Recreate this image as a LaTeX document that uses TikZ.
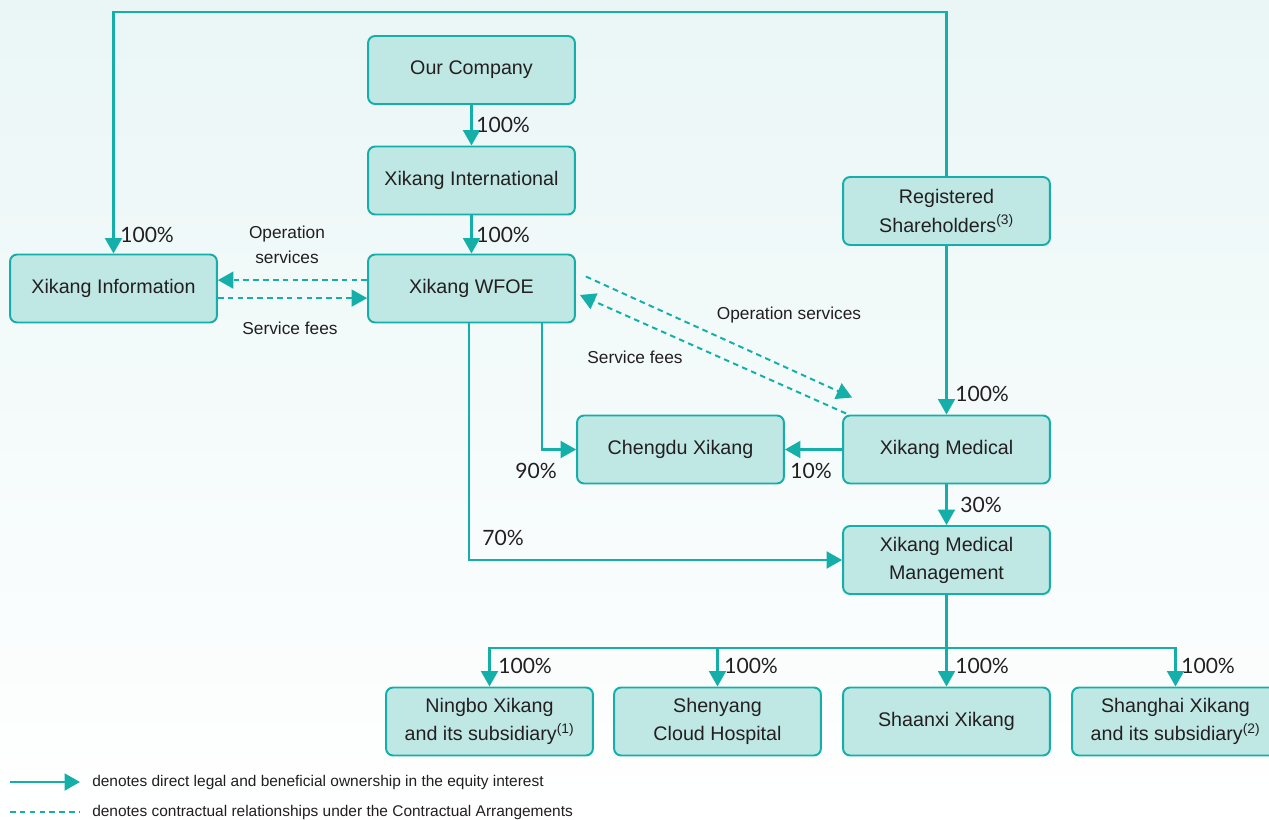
\documentclass[tikz,border=0pt]{standalone}
\usepackage{fontspec}
\setmainfont{Liberation Sans}
\newfontfamily\pctfont{Lato}
\usetikzlibrary{arrows.meta}
\definecolor{xkline}{HTML}{14AFA8}
\definecolor{xkfill}{HTML}{BFE8E5}
\definecolor{xktext}{HTML}{231F20}
\definecolor{xkback}{HTML}{EAF6F6}

\begin{document}
\begin{tikzpicture}[x=0.025cm,y=-0.025cm,
    ent/.style={draw=xkline,fill=xkfill,line width=1.4pt,rounded corners=5pt,
      minimum width=5.17cm,minimum height=1.7cm,align=center,text=xktext,
      font=\fontsize{14}{20}\selectfont},
    own/.style={xkline,line width=1.7pt,-{Triangle[length=11pt,width=12pt]}},
    deal/.style={xkline,line width=1.4pt,dash pattern=on 4pt off 3pt},
    pct/.style={font=\pctfont\fontsize{15}{18}\selectfont,text=xktext,inner sep=0pt,anchor=west},
    note/.style={font=\fontsize{12.3}{18}\selectfont,text=xktext,align=center},
    key/.style={font=\fontsize{11}{13}\selectfont,text=xktext,anchor=west,inner sep=0pt}]
  \shade[top color=xkback,bottom color=white,use as bounding box] (0,0) rectangle (1269,820);
  \draw
    (471.5,70) node[ent] (oc){Our Company}
    (471.5,180.5) node[ent] (xi){Xikang International}
    (471.5,288.5) node[ent] (wfoe){Xikang WFOE}
    (113.5,288.5) node[ent] (xinfo){Xikang Information}
    (946.5,211) node[ent] (rs){Registered\\Shareholders\textsuperscript{(3)}}
    (680.5,449.5) node[ent] (cx){Chengdu Xikang}
    (946.5,449.5) node[ent] (xm){Xikang Medical}
    (946.5,560) node[ent] (xmm){Xikang Medical\\Management}
    (489.5,721.5) node[ent] (nb){Ningbo Xikang\\and its subsidiary\textsuperscript{(1)}}
    (717.5,721.5) node[ent] (sy){Shenyang\\Cloud Hospital}
    (946.5,721.5) node[ent] (sx){Shaanxi Xikang}
    (1175.5,721.5) node[ent] (sh){Shanghai Xikang\\and its subsidiary\textsuperscript{(2)}};
  \coordinate (top) at (0,12);
  \coordinate (bus) at (0,648);
  \begin{scope}[own]
    \draw (oc) -- (xi);
    \draw (xi) -- (wfoe);
    \draw (rs.north) -- (rs.north |- top) -- (xinfo.north |- top) -- (xinfo.north);
    \draw (rs) -- (xm);
    \draw ([xshift=1.76cm]wfoe.south) |- (cx.west);
    \draw ([xshift=-0.06cm]wfoe.south) |- (xmm.west);
    \draw (xm.west) -- (cx.east);
    \draw (xm) -- (xmm);
    \foreach \c in {nb,sy,sh}
      \draw (xmm.south) -- (xmm.south |- bus) -| (\c.north);
    \draw (xmm) -- (sx);
  \end{scope}
  \begin{scope}[deal,-{Triangle[length=11pt,width=12pt]}]
    \draw ([yshift=0.21cm]wfoe.west) -- ([yshift=0.21cm]xinfo.east);
    \draw ([yshift=-0.24cm]xinfo.east) -- ([yshift=-0.24cm]wfoe.west);
    \draw ([shift={(10,23)}]wfoe.north east) -- ([shift={(10,-17)}]xm.north west);
    \draw ([shift={(4,-1)}]xm.north west) -- ([shift={(4,6.5)}]wfoe.east);
  \end{scope}
  \node[note] (os1) at (287,245) {Operation\\services};
  \node[note] (sf1) at (290,328) {Service fees};
  \node[note] (os2) at (789,315) {Operation services};
  \node[note] (sf2) at (635,357) {Service fees};
  \node[pct] (p1) at (476,125) {100\%};
  \node[pct] (p2) at (476,235) {100\%};
  \node[pct] (p3) at (120,235) {100\%};
  \node[pct] (p4) at (955,394) {100\%};
  \node[pct] (p5) at (515,471) {90\%};
  \node[pct] (p6) at (790,471) {10\%};
  \node[pct] (p7) at (960,505) {30\%};
  \node[pct] (p8) at (482,538) {70\%};
  \node[pct] (p9) at (498,666) {100\%};
  \node[pct] (p10) at (724,666) {100\%};
  \node[pct] (p11) at (955,666) {100\%};
  \node[pct] (p12) at (1181,666) {100\%};
  \coordinate (k1a) at (10,782);
  \coordinate (k1b) at (80,782);
  \coordinate (k2a) at (10,812);
  \coordinate (k2b) at (80,812);
  \draw[own] (k1a) -- (k1b);
  \draw[deal] (k2a) -- (k2b);
  \node[key] (k1) at (92,782) {denotes direct legal and beneficial ownership in the equity interest};
  \node[key] (k2) at (92,812) {denotes contractual relationships under the Contractual Arrangements};
\end{tikzpicture}
\end{document}
